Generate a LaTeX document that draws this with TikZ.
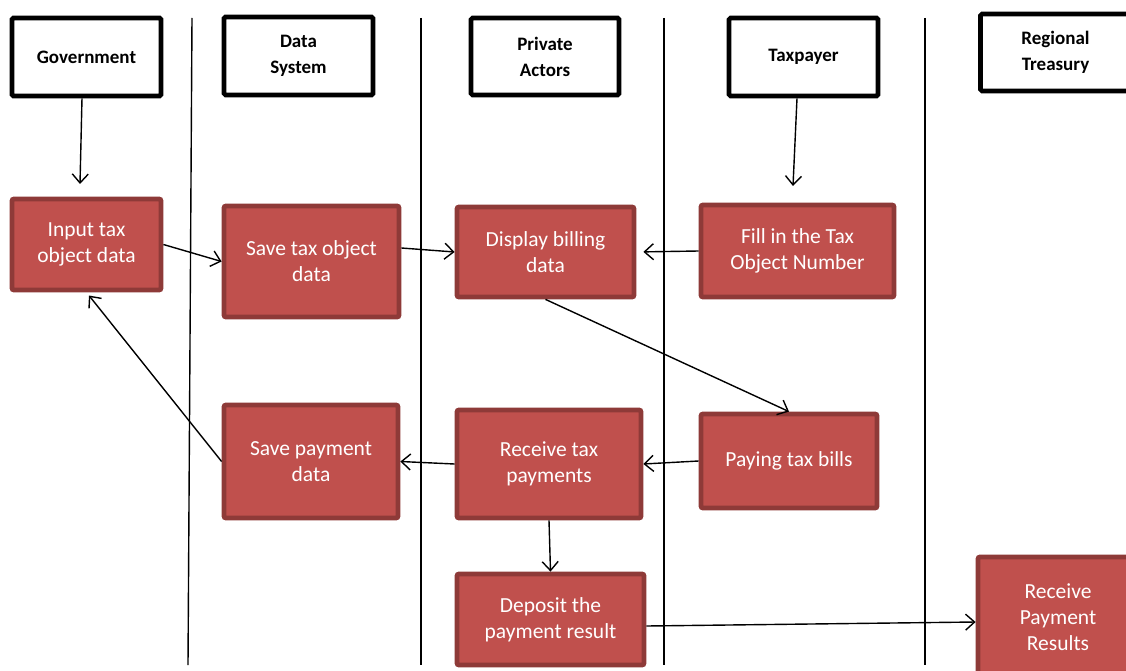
\documentclass[tikz,border=0pt]{standalone}
\usepackage{fontspec}
\setmainfont{Carlito}
\usetikzlibrary{arrows.meta}
\definecolor{boxfill}{HTML}{C0504D}
\definecolor{boxline}{HTML}{8E3A38}
\tikzset{
  lane/.style={draw=black, line width=4.6pt, fill=white, rounded corners=1.5pt, align=center, inner sep=0pt,
    font=\fontsize{19}{26}\selectfont\bfseries},
  act/.style={draw=boxline, line width=4.8pt, fill=boxfill, rounded corners=2pt, align=center,
    inner sep=0pt, text=white, font=\fontsize{21.5}{26}\selectfont},
  flow/.style={draw=black, line width=1.4pt, -{Straight Barb[length=9pt,width=16pt,line width=1.4pt]}},
  divider/.style={draw=black, line width=1.4pt}
}
\begin{document}
\begin{tikzpicture}[x=1pt,y=-1pt]
\useasboundingbox (0,0) rectangle (1126,671);
\clip (0,0) rectangle (1126,671);
\fill[white] (0,0) rectangle (1126,671);
% lane dividers
\draw[divider] (192,18) -- (188,665);
\draw[divider] (421,18) -- (421,665);
\draw[divider] (664,18) -- (664,665);
\draw[divider] (925,18) -- (925,665);
% headers
\node[lane, minimum width=149, minimum height=78] (gov) at (86.5,57) {Government};
\node[lane, minimum width=149, minimum height=78] (ds) at (298.5,56) {Data\\System};
\node[lane, minimum width=148, minimum height=77] (pa) at (545,56.5) {Private\\Actors};
\node[lane, minimum width=149, minimum height=78] (tp) at (803.5,57) {Taxpayer};
\node[lane, minimum width=149, minimum height=77, text width=150] (rt) at (1055.5,52.5) {Regional\\Treasury};
% activities
\node[act, minimum width=149, minimum height=91] (inp) at (86.5,244.5) {Input tax\\object data};
\node[act, minimum width=175, minimum height=111] (savetax) at (311.5,261.5) {Save tax object\\data};
\node[act, minimum width=177, minimum height=90] (disp) at (545.5,252) {Display billing\\data};
\node[act, minimum width=193, minimum height=92] (fill) at (797.5,251) {Fill in the Tax\\Object Number};
\node[act, minimum width=174, minimum height=113] (savepay) at (311,461.5) {Save payment\\data};
\node[act, minimum width=184, minimum height=108] (rec) at (549,464) {Receive tax\\payments};
\node[act, minimum width=176, minimum height=94] (pay) at (789,461) {Paying tax bills};
\node[act, minimum width=187, minimum height=91] (dep) at (550.5,619.5) {Deposit the\\payment result};
\node[act, minimum width=160, minimum height=120, text width=150] (rpr) at (1058,617) {Receive\\Payment\\Results};
% free ends
\coordinate (govend) at (80,184);
\coordinate (tpend) at (793,186);
% connectors
\draw[flow] (gov.south -| 82,0) -- (govend);
\draw[flow] (tp.south -| 797,0) -- (tpend);
\draw[flow] (inp.east) -- (savetax.west);
\draw[flow] (savetax.east |- 0,248) -- (disp.west);
\draw[flow, shorten >=7pt] (fill.west) -- (disp.east);
\draw[flow] (disp.south) -- (pay.north);
\draw[flow] (pay.west) -- (rec.east);
\draw[flow] (rec.west) -- (savepay.east);
\draw[flow, shorten >=4pt] (savepay.west) -- (inp.south);
\draw[flow] (rec.south) -- (dep.north);
\draw[flow] (dep.east |- 0,626) -- (rpr.west |- 0,622);
\end{tikzpicture}
\end{document}
